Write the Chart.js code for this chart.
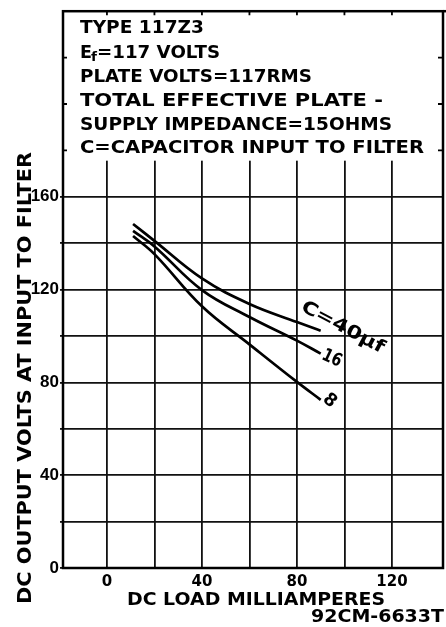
<!DOCTYPE html>
<html>
<head>
<meta charset="utf-8">
<script src="https://cdn.jsdelivr.net/npm/chart.js@4.4.1/dist/chart.umd.min.js"></script>
<style>
  html, body { margin: 0; padding: 0; background: #fff; }
  canvas { display: block; }
</style>
</head>
<body>
<canvas id="tubeChart" width="446" height="627"></canvas>
<script>
// load current (mA) and dc output volts for each input capacitor
const loadMa = [11, 20, 40, 60, 80, 90];
const volts40uf = [148.3, 141, 124.8, 113.8, 106, 102.3];
const volts16uf = [145.3, 138.6, 119.8, 108.2, 98, 92.4];
const volts8uf = [143.1, 135.3, 112.8, 96.4, 80.2, 72.5];

const xTicks = [0, 20, 40, 60, 80, 100, 120];
const xTickLabels = ["0", "", "40", "", "80", "", "120"];
const yTicks = [0, 20, 40, 60, 80, 100, 120, 140, 160];
const yTickLabels = ["0", "", "40", "", "80", "", "120", "", "160"];
const edgeTicks = [180, 200, 220];

const curveLabels = ["C=40\u00B5f", "16", "8"];
const noteLines = [
    "TYPE 117Z3",
    "=117 VOLTS",
    "PLATE VOLTS=117RMS",
    "TOTAL EFFECTIVE PLATE -",
    "SUPPLY IMPEDANCE=15OHMS",
    "C=CAPACITOR INPUT TO FILTER"
];
const xTitle = "DC LOAD MILLIAMPERES";
const yTitle = "DC OUTPUT VOLTS AT INPUT TO FILTER";
const figNumber = "92CM-6633T";

const FONT = '"DejaVu Sans", sans-serif';

// draw text squeezed/stretched to a given width
function fitText(ctx, text, x, y, width, align) {
    const w = ctx.measureText(text).width;
    ctx.save();
    ctx.translate(x, y);
    ctx.scale(width / w, 1);
    ctx.textAlign = align || "left";
    ctx.fillText(text, 0, 0);
    ctx.restore();
}

function toPoints(ys) {
    return loadMa.map((x, i) => ({ x: x, y: ys[i] }));
}

const framePlugin = {
    id: "frame",
    beforeDatasetsDraw(chart) {
        const ctx = chart.ctx;
        const a = chart.chartArea;
        const xs = chart.scales.x;
        const ys = chart.scales.y;
        ctx.save();

        // blank panel for the notes above the grid
        ctx.fillStyle = "#fff";
        ctx.fillRect(a.left + 1, a.top + 1, a.right - a.left - 2, ys.getPixelForValue(176) - a.top);

        ctx.strokeStyle = "#000";
        ctx.lineWidth = 2.5;
        ctx.strokeRect(a.left, a.top, a.right - a.left, a.bottom - a.top);
        ctx.beginPath();
        ctx.moveTo(a.right, a.top);
        ctx.lineTo(chart.width, a.top);
        ctx.stroke();

        // short marks on the frame edges
        ctx.lineWidth = 1.8;
        ctx.beginPath();
        edgeTicks.forEach(v => {
            const py = ys.getPixelForValue(v);
            ctx.moveTo(a.left, py); ctx.lineTo(a.left + 4, py);
            ctx.moveTo(a.right, py); ctx.lineTo(a.right - 5, py);
        });
        xTicks.forEach(v => {
            const px = xs.getPixelForValue(v);
            ctx.moveTo(px, a.top); ctx.lineTo(px, a.top + 4);
        });
        ctx.stroke();

        // notes
        ctx.fillStyle = "#000";
        ctx.textBaseline = "alphabetic";
        ctx.font = "bold 18px " + FONT;
        fitText(ctx, noteLines[0], 80, 33, 124);
        fitText(ctx, "E", 80, 58, 12);
        ctx.font = "bold 12px " + FONT;
        fitText(ctx, "f", 91, 61, 6);
        ctx.font = "bold 18px " + FONT;
        fitText(ctx, noteLines[1], 97, 58, 123);
        fitText(ctx, noteLines[2], 80, 82, 232);
        fitText(ctx, noteLines[3], 80, 106, 303);
        fitText(ctx, noteLines[4], 80, 130, 312);
        fitText(ctx, noteLines[5], 80, 153, 344);

        // axis titles
        ctx.textBaseline = "middle";
        fitText(ctx, xTitle, 256, 600, 258, "center");
        fitText(ctx, figNumber, 444, 617, 133, "right");
        ctx.save();
        ctx.translate(26, 378);
        ctx.rotate(-Math.PI / 2);
        ctx.font = "bold 20px " + FONT;
        fitText(ctx, yTitle, 0, 0, 452, "center");
        ctx.restore();

        ctx.restore();
    },
    afterDatasetsDraw(chart) {
        const ctx = chart.ctx;
        const xs = chart.scales.x;
        const ys = chart.scales.y;
        const last = loadMa.length - 1;
        const ends = [volts40uf, volts16uf, volts8uf].map(v => ({
            x: xs.getPixelForValue(loadMa[last]),
            y: ys.getPixelForValue(v[last])
        }));
        ctx.save();
        ctx.fillStyle = "#000";
        ctx.textBaseline = "middle";

        const place = [
            { dx: 22, dy: -3, rot: 28, size: 18, w: 92 },
            { dx: 11, dy: 5, rot: 25, size: 18, w: 20 },
            { dx: 9, dy: 1, rot: 40, size: 18, w: 12 }
        ];
        place.forEach((p, i) => {
            ctx.save();
            ctx.translate(ends[i].x + p.dx, ends[i].y + p.dy);
            ctx.rotate(p.rot * Math.PI / 180);
            ctx.font = "bold " + p.size + "px " + FONT;
            fitText(ctx, curveLabels[i], 0, 0, p.w, "center");
            ctx.restore();
        });
        ctx.restore();
    }
};

const lineStyle = {
    borderColor: "#000",
    borderWidth: 2.7,
    pointRadius: 0,
    fill: false,
    tension: 0.4
};

new Chart(document.getElementById("tubeChart"), {
    type: "line",
    data: {
        datasets: [
            Object.assign({ label: "40", data: toPoints(volts40uf) }, lineStyle),
            Object.assign({ label: "16", data: toPoints(volts16uf) }, lineStyle),
            Object.assign({ label: "8", data: toPoints(volts8uf) }, lineStyle)
        ]
    },
    options: {
        responsive: false,
        animation: false,
        devicePixelRatio: 1,
        layout: { padding: { top: 5, right: 3, left: 0, bottom: 0 } },
        plugins: {
            legend: { display: false },
            tooltip: { enabled: false }
        },
        scales: {
            x: {
                type: "linear",
                min: -18.5,
                max: 141.5,
                afterBuildTicks: s => { s.ticks = xTicks.map(v => ({ value: v })); },
                afterFit: s => { s.height = 59; },
                border: { display: false },
                grid: { color: "#111", lineWidth: 1.8, drawTicks: false },
                ticks: {
                    autoSkip: false,
                    maxRotation: 0,
                    padding: 5,
                    color: "#000",
                    font: { family: FONT, size: 15, weight: "bold" },
                    callback: v => xTickLabels[xTicks.indexOf(v)]
                }
            },
            y: {
                type: "linear",
                min: 0,
                max: 240,
                afterBuildTicks: s => { s.ticks = yTicks.map(v => ({ value: v })); },
                afterFit: s => { s.width = 63; },
                border: { display: false },
                grid: { color: "#111", lineWidth: 1.8, drawTicks: true, tickLength: 3 },
                ticks: {
                    autoSkip: false,
                    padding: 1,
                    color: "#000",
                    font: { family: '"Liberation Sans", sans-serif', size: 17, weight: "bold" },
                    callback: v => yTickLabels[yTicks.indexOf(v)]
                }
            }
        }
    },
    plugins: [framePlugin]
});
</script>
</body>
</html>
